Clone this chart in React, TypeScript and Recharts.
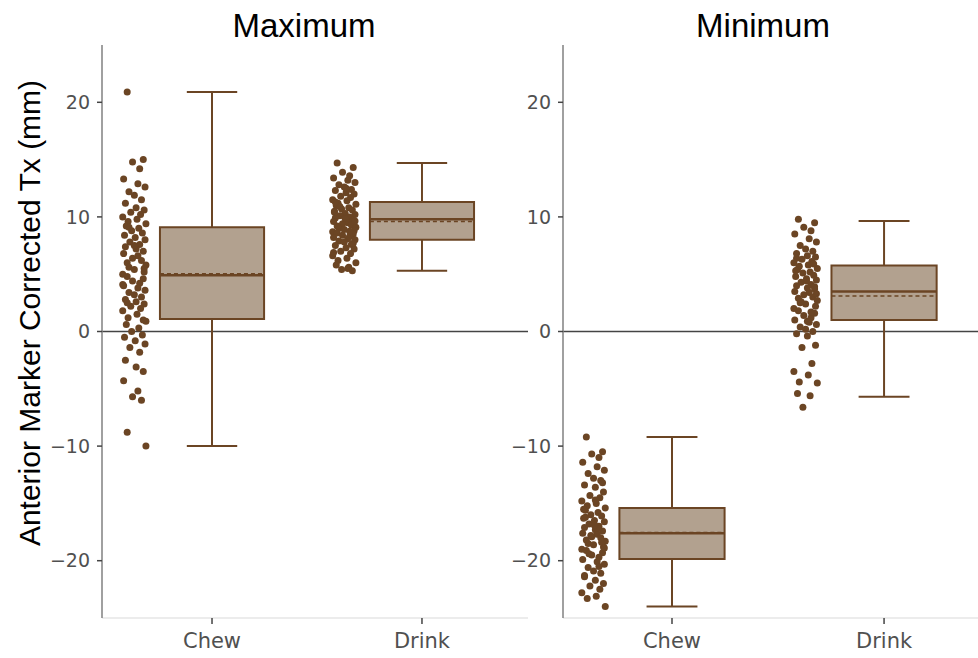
import React from 'react';
import { ComposedChart, Scatter, XAxis, YAxis, ReferenceLine, ReferenceArea } from 'recharts';

const categories = ['Chew', 'Drink'];
const yTicks = [-20, -10, 0, 10, 20];

// Maximum panel box stats, one entry per category
const maxLow = [-10.0, 5.3];
const maxQ1 = [1.1, 8.0];
const maxMedian = [4.9, 9.8];
const maxMean = [5.05, 9.6];
const maxQ3 = [9.1, 11.3];
const maxHigh = [20.9, 14.7];

// Minimum panel box stats
const minLow = [-24.0, -5.7];
const minQ1 = [-19.85, 1.0];
const minMedian = [-17.6, 3.5];
const minMean = [-17.55, 3.1];
const minQ3 = [-15.4, 5.75];
const minHigh = [-9.2, 9.65];

// raw observations
const maxChew = [
  20.9, 15.0, 14.8, 14.2, 13.3, 12.9, 12.6, 12.2, 11.9, 11.5, 11.2, 10.8, 10.6, 10.4, 10.2, 10.0,
  9.8, 9.6, 9.4, 9.2, 9.0, 8.8, 8.6, 8.4, 8.2, 8.0, 7.8, 7.6, 7.4, 7.2, 7.0,
  6.8, 6.6, 6.4, 6.2, 6.0, 5.8, 5.6, 5.4, 5.2, 5.0, 4.8, 4.6, 4.4, 4.2, 4.0,
  3.8, 3.6, 3.4, 3.2, 3.0, 2.8, 2.6, 2.4, 2.2, 2.0, 1.8, 1.5, 1.2, 0.9, 0.6,
  0.3, 0.0, -0.3, -0.5, -0.8, -1.1, -1.4, -1.8, -2.5, -3.1, -3.5, -4.3, -5.2, -5.7, -6.0,
  -8.8, -10.0, 9.1, 7.5, 5.5, 4.1, 2.5, 1.0,
];
const maxDrink = [
  14.7, 14.3, 13.9, 13.6, 13.4, 13.2, 13.0, 12.8, 12.6, 12.4, 12.3, 12.1, 12.0, 11.8, 11.7,
  11.5, 11.4, 11.2, 11.1, 11.0, 10.8, 10.7, 10.6, 10.5, 10.3, 10.2, 10.1, 10.0, 9.9, 9.8,
  9.7, 9.6, 9.5, 9.4, 9.3, 9.2, 9.1, 9.0, 8.9, 8.8, 8.7, 8.6, 8.5, 8.4, 8.3,
  8.2, 8.1, 8.0, 7.9, 7.8, 7.6, 7.5, 7.3, 7.2, 7.0, 6.8, 6.6, 6.4, 6.2, 6.0,
  5.8, 5.6, 5.4, 5.3, 10.4, 9.85, 9.65, 10.9, 8.75, 11.3, 12.5, 7.7, 6.9, 5.5,
];
const minChew = [
  -9.2, -10.5, -10.7, -11.0, -11.4, -11.8, -12.1, -12.4, -12.8, -13.0, -13.4, -13.6, -14.0, -14.3, -14.5,
  -14.8, -15.0, -15.2, -15.4, -15.6, -15.8, -16.0, -16.1, -16.3, -16.5, -16.6, -16.8, -17.0, -17.1, -17.3,
  -17.4, -17.6, -17.7, -17.9, -18.0, -18.2, -18.3, -18.5, -18.6, -18.8, -19.0, -19.1, -19.3, -19.5, -19.7,
  -19.9, -20.1, -20.3, -20.6, -20.9, -21.1, -21.4, -21.7, -22.0, -22.2, -22.5, -22.8, -23.1, -23.3, -24.0,
  -16.2, -17.2, -17.8, -18.4, -15.5, -16.9, -18.9, -19.4, -20.5, -21.3, -14.7, -13.2,
];
const minDrink = [
  9.8, 9.5, 9.1, 8.8, 8.5, 8.1, 7.8, 7.5, 7.2, 7.0, 6.8, 6.6, 6.5, 6.3, 6.1,
  6.0, 5.8, 5.7, 5.5, 5.4, 5.2, 5.1, 4.9, 4.8, 4.6, 4.5, 4.3, 4.1, 4.0, 3.8,
  3.7, 3.5, 3.4, 3.2, 3.0, 2.9, 2.7, 2.5, 2.4, 2.2, 2.0, 1.8, 1.6, 1.4, 1.2,
  1.0, 0.8, 0.6, 0.4, 0.2, 0.0, -0.2, -0.4, -1.2, -1.4, -2.8, -3.5, -3.8, -4.4, -4.5,
  -5.4, -5.6, -6.6, 5.9, 5.3, 4.4, 3.3, 2.6, 1.7, 6.4, 0.9, 3.9,
];

// hand-picked horizontal jitter (category units), reused along each group
const jitter = [
  -0.04, 0.05, -0.01, 0.03, -0.06, 0.02, 0.06, -0.03, 0.0, 0.04, -0.05, 0.01, 0.055, -0.02,
  0.035, -0.065, 0.015, -0.035, 0.065, -0.045, 0.025, -0.015, 0.045, -0.055, 0.005, 0.06,
  -0.025, 0.03, -0.05, 0.01, 0.05, -0.06, 0.02, -0.01, 0.04, -0.04, 0.065, -0.03, 0.0, 0.055, -0.065,
];

const POINT_POS = -0.37;
const JITTER_SCALE = 0.85;
const BOX_HALF = 0.248;
const CAP_HALF = 0.12;
const BROWN = '#6b4524';
const BOX_FILL = '#b2a18f';

const fmtY = (v: number) => (v < 0 ? `\u2212${Math.abs(v)}` : `${v}`);

const Dot = (props: any) => {
  if (props.cx == null || props.cy == null) return null;
  return <circle cx={props.cx} cy={props.cy} r={3.5} fill={BROWN} />;
};

interface Stats {
  low: number[];
  q1: number[];
  median: number[];
  mean: number[];
  q3: number[];
  high: number[];
}

interface PanelProps {
  left: number;
  width: number;
  marginRight: number;
  yAxisWidth: number;
  domain: [number, number];
  stats: Stats;
  groups: number[][];
}

function Panel({ left, width, marginRight, yAxisWidth, domain, stats, groups }: PanelProps) {
  const points = groups.map((vals, ci) =>
    vals.map((v, i) => ({ x: ci + POINT_POS + JITTER_SCALE * jitter[i % jitter.length], y: v }))
  );
  return (
    <div style={{ position: 'absolute', left, top: 0 }}>
      <ComposedChart width={width} height={658} margin={{ top: 45, right: marginRight, bottom: 0, left: 0 }}>
        <XAxis
          type="number"
          dataKey="x"
          domain={domain}
          ticks={[0, 1]}
          interval={0}
          allowDataOverflow
          tickFormatter={(v: number) => categories[v] ?? ''}
          height={40}
          axisLine={{ stroke: '#e6e6e6', strokeWidth: 1.5 }}
          tickLine={{ stroke: '#444', strokeWidth: 1.5 }}
          tickSize={6}
          tickMargin={9}
          tick={{ fontSize: 21, fill: '#505050', fontFamily: 'DejaVu Sans' }}
        />
        <YAxis
          type="number"
          dataKey="y"
          domain={[-25, 25]}
          ticks={yTicks}
          interval={0}
          allowDataOverflow
          width={yAxisWidth}
          tickFormatter={fmtY}
          axisLine={{ stroke: '#808080', strokeWidth: 1.5 }}
          tickLine={{ stroke: '#444', strokeWidth: 1.5 }}
          tickSize={5}
          tickMargin={7}
          tick={{ fontSize: 19, fill: '#505050', fontFamily: 'DejaVu Sans' }}
        />
        <ReferenceLine y={0} stroke="#444" strokeWidth={1.5} />
        {categories.map((c, i) => (
          <React.Fragment key={c}>
            <ReferenceLine
              segment={[{ x: i, y: stats.q3[i] }, { x: i, y: stats.high[i] }]}
              stroke={BROWN}
              strokeWidth={2}
            />
            <ReferenceLine
              segment={[{ x: i, y: stats.low[i] }, { x: i, y: stats.q1[i] }]}
              stroke={BROWN}
              strokeWidth={2}
            />
            <ReferenceLine
              segment={[{ x: i - CAP_HALF, y: stats.high[i] }, { x: i + CAP_HALF, y: stats.high[i] }]}
              stroke={BROWN}
              strokeWidth={2}
            />
            <ReferenceLine
              segment={[{ x: i - CAP_HALF, y: stats.low[i] }, { x: i + CAP_HALF, y: stats.low[i] }]}
              stroke={BROWN}
              strokeWidth={2}
            />
            <ReferenceArea
              x1={i - BOX_HALF}
              x2={i + BOX_HALF}
              y1={stats.q1[i]}
              y2={stats.q3[i]}
              fill={BOX_FILL}
              fillOpacity={1}
              stroke={BROWN}
              strokeWidth={2}
            />
            <ReferenceLine
              segment={[{ x: i - BOX_HALF, y: stats.median[i] }, { x: i + BOX_HALF, y: stats.median[i] }]}
              stroke={BROWN}
              strokeWidth={2.5}
            />
            <ReferenceLine
              segment={[{ x: i - BOX_HALF, y: stats.mean[i] }, { x: i + BOX_HALF, y: stats.mean[i] }]}
              stroke={BROWN}
              strokeWidth={1.5}
              strokeDasharray="4 3"
            />
          </React.Fragment>
        ))}
        {points.map((p, i) => (
          <Scatter key={categories[i]} data={p} isAnimationActive={false} shape={Dot} />
        ))}
      </ComposedChart>
    </div>
  );
}

export default function App() {
  return (
    <div style={{ position: 'absolute', left: 0, top: 0, width: 978, height: 658, background: '#fff' }}>
      <Panel
        left={0}
        width={545}
        marginRight={17}
        yAxisWidth={102}
        domain={[-0.524, 1.505]}
        stats={{ low: maxLow, q1: maxQ1, median: maxMedian, mean: maxMean, q3: maxQ3, high: maxHigh }}
        groups={[maxChew, maxDrink]}
      />
      <Panel
        left={480}
        width={498}
        marginRight={0}
        yAxisWidth={83}
        domain={[-0.514, 1.443]}
        stats={{ low: minLow, q1: minQ1, median: minMedian, mean: minMean, q3: minQ3, high: minHigh }}
        groups={[minChew, minDrink]}
      />
      <svg width={978} height={658} style={{ position: 'absolute', left: 0, top: 0, pointerEvents: 'none' }}>
        <text x={304} y={37} textAnchor="middle" fontSize={33} fontFamily="Liberation Sans, Arial" fill="#000">
          Maximum
        </text>
        <text x={763} y={37} textAnchor="middle" fontSize={33} fontFamily="Liberation Sans, Arial" fill="#000">
          Minimum
        </text>
        <text
          transform="translate(40, 313) rotate(-90)"
          textAnchor="middle"
          fontSize={30}
          fontFamily="Liberation Sans, Arial"
          fill="#000"
        >
          Anterior Marker Corrected Tx (mm)
        </text>
      </svg>
    </div>
  );
}
